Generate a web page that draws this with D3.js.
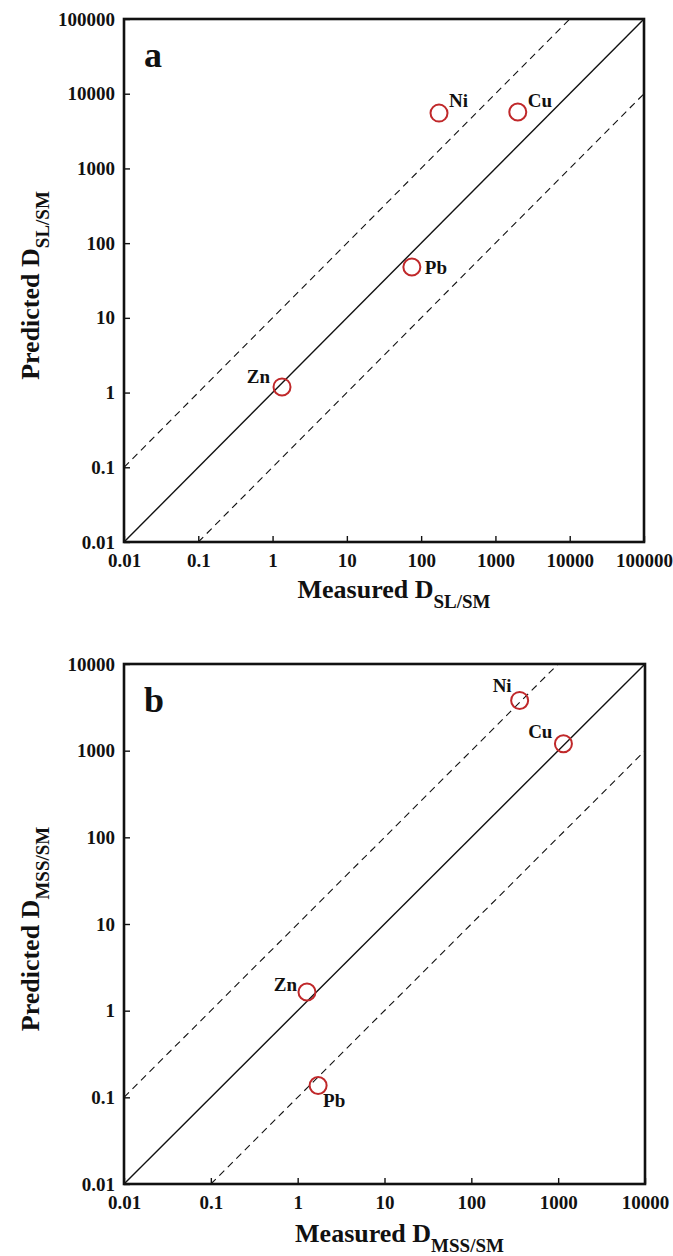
<!DOCTYPE html>
<html>
<head>
<meta charset="utf-8">
<script src="https://cdn.jsdelivr.net/npm/d3@7"></script>
<style>
  html, body { margin: 0; padding: 0; background: #fff; }
  svg { display: block; }
  text { font-family: "Liberation Serif", "Times New Roman", serif; font-weight: bold; fill: #111; }
</style>
</head>
<body>
<svg id="chart" width="673" height="1256"></svg>
<script>
// Panel a: partition between sulfide liquid and sulfide melt
const elementsA = ["Ni", "Cu", "Pb", "Zn"];
const measuredA = [174, 2000, 75, 1.34];
const predictedA = [5500, 5700, 48, 1.19];
const ticksA = [0.01, 0.1, 1, 10, 100, 1000, 10000, 100000];
const tickLabelsA = ["0.01", "0.1", "1", "10", "100", "1000", "10000", "100000"];

// Panel b: partition between monosulfide solid solution and sulfide melt
const elementsB = ["Ni", "Cu", "Zn", "Pb"];
const measuredB = [360, 1150, 1.28, 1.72];
const predictedB = [3800, 1200, 1.64, 0.137];
const ticksB = [0.01, 0.1, 1, 10, 100, 1000, 10000];
const tickLabelsB = ["0.01", "0.1", "1", "10", "100", "1000", "10000"];

// Reference lines: 1:1 and factor-of-ten bounds
const lineFactors = [1, 10, 0.1];

const svg = d3.select("#chart");

function panel(opts) {
  const { left, top, width, height, ticks, tickLabels, names, xs, ys, letter, sub, labelPos, titleShift, titleDrop } = opts;
  const g = svg.append("g");
  const dom = [ticks[0], ticks[ticks.length - 1]];
  const x = d3.scaleLog().domain(dom).range([left, left + width]);
  const y = d3.scaleLog().domain(dom).range([top + height, top]);

  // reference lines
  lineFactors.forEach(k => {
    const x0 = Math.max(dom[0], dom[0] / k);
    const x1 = Math.min(dom[1], dom[1] / k);
    g.append("line")
      .attr("x1", x(x0)).attr("y1", y(x0 * k))
      .attr("x2", x(x1)).attr("y2", y(x1 * k))
      .attr("stroke", "#111")
      .attr("stroke-width", k === 1 ? 1.4 : 1.1)
      .attr("stroke-dasharray", k === 1 ? null : "7,5");
  });

  // axes with inward ticks
  const fmt = d => tickLabels[ticks.indexOf(d)];
  const xAxis = g.append("g")
    .attr("transform", `translate(0,${top + height})`)
    .call(d3.axisBottom(x).tickValues(ticks).tickFormat(fmt).tickSizeInner(-6).tickSizeOuter(0).tickPadding(12));
  const yAxis = g.append("g")
    .attr("transform", `translate(${left},0)`)
    .call(d3.axisLeft(y).tickValues(ticks).tickFormat(fmt).tickSizeInner(-6).tickSizeOuter(0).tickPadding(9));
  [xAxis, yAxis].forEach(a => {
    a.select(".domain").remove();
    a.selectAll(".tick line").attr("stroke", "#111").attr("stroke-width", 1.4);
    a.selectAll(".tick text")
      .attr("font-family", "'Liberation Serif', 'Times New Roman', serif")
      .attr("font-weight", "bold")
      .attr("font-size", 19)
      .attr("fill", "#111");
  });
  xAxis.selectAll(".tick text").attr("dy", "0.71em");

  // frame
  g.append("rect")
    .attr("x", left).attr("y", top)
    .attr("width", width).attr("height", height)
    .attr("fill", "none").attr("stroke", "#111").attr("stroke-width", 2.6);

  // data points
  names.forEach((n, i) => {
    const cx = x(xs[i]), cy = y(ys[i]);
    g.append("circle")
      .attr("cx", cx).attr("cy", cy).attr("r", 8.5)
      .attr("fill", "none").attr("stroke", "#c0282a").attr("stroke-width", 2);
    const p = labelPos[n];
    g.append("text")
      .attr("x", cx + p[0]).attr("y", cy + p[1])
      .attr("text-anchor", p[2])
      .attr("dominant-baseline", "central")
      .attr("font-size", 19)
      .text(n);
  });

  // panel letter
  g.append("text")
    .attr("x", left + 20).attr("y", top + 48)
    .attr("font-size", 36)
    .text(letter);

  // x title
  const xt = g.append("text")
    .attr("x", left + width / 2 + titleShift).attr("y", top + height + 56 + titleDrop)
    .attr("text-anchor", "middle")
    .attr("font-size", 26);
  xt.append("tspan").text("Measured D");
  xt.append("tspan").attr("dy", 10).attr("font-size", 19).text(sub);

  // y title
  const yt = g.append("text")
    .attr("transform", `translate(${39},${top + height / 2 + 5}) rotate(-90)`)
    .attr("text-anchor", "middle")
    .attr("font-size", 26);
  yt.append("tspan").text("Predicted D");
  yt.append("tspan").attr("dy", 10).attr("font-size", 19).text(sub);
}

panel({
  left: 124, top: 19, width: 520, height: 523,
  ticks: ticksA, tickLabels: tickLabelsA,
  names: elementsA, xs: measuredA, ys: predictedA,
  letter: "a", sub: "SL/SM", titleShift: 10, titleDrop: 0,
  labelPos: { Ni: [10, -13, "start"], Cu: [10, -11, "start"], Pb: [13, 1, "start"], Zn: [-12, -10, "end"] }
});

panel({
  left: 124, top: 664, width: 521, height: 520,
  ticks: ticksB, tickLabels: tickLabelsB,
  names: elementsB, xs: measuredB, ys: predictedB,
  letter: "b", sub: "MSS/SM", titleShift: 15, titleDrop: 2,
  labelPos: { Ni: [-8, -15, "end"], Cu: [-11, -12, "end"], Zn: [-10, -8, "end"], Pb: [5, 15, "start"] }
});
</script>
</body>
</html>
